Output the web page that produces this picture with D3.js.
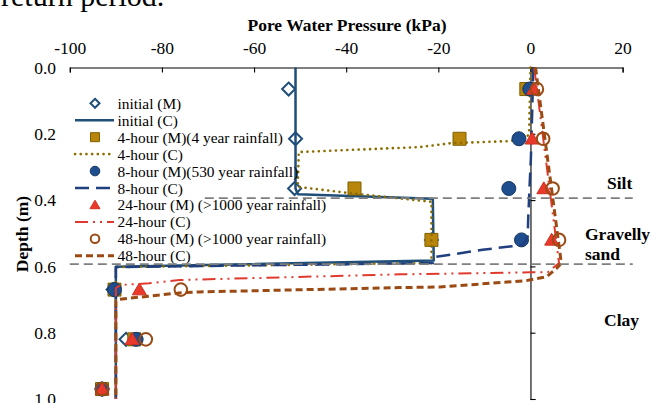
<!DOCTYPE html>
<html>
<head>
<meta charset="utf-8">
<script src="https://cdn.jsdelivr.net/npm/d3@7"></script>
<style>
  body { margin: 0; background: #fff; }
  svg { display: block; font-family: "Liberation Serif", "Times New Roman", serif; }
  svg text { font-family: "Liberation Serif", "Times New Roman", serif; }
</style>
</head>
<body>
<svg id="chart" width="652" height="403"></svg>
<script>
var svgWidth = 652;
var svgHeight = 403;

// measured depths (m) and pore water pressures (kPa)
var depthM   = [0.065, 0.215, 0.365, 0.52, 0.67, 0.82, 0.97];
var initialM = [-52.5, -51, -51.2, -21.5, -90.6, -87.8, -93];
var hour4M   = [-0.9, -15.4, -38.2, -21.5, -90.3, -86, -93];
var hour8M   = [-0.15, -2.5, -4.7, -1.95, -90.3, -85.6, -93];
var hour24M  = [0.7, 0.35, 2.9, 4.6, -84.9, -86.5, -93];
var hour48M  = [1.4, 2.75, 4.8, 6.2, -75.9, -83.5, -93];

// computed profiles [pressure, depth]
var initialC = [[-51, 0], [-51, 0.365], [-50.5, 0.382], [-21.2, 0.396], [-21, 0.582], [-90, 0.601], [-90, 1]];
var hour4C = [[0, 0], [-0.3, 0.2], [-0.9, 0.212], [-4.5, 0.222], [-17, 0.228], [-24, 0.24], [-50.3, 0.255],
  [-50.5, 0.36], [-39.3, 0.379], [-21.5, 0.405], [-21.5, 0.59], [-90, 0.602], [-90, 1]];
var hour8C = [[0.6, 0], [0.4, 0.12], [0.1, 0.27], [-0.2, 0.36], [-0.5, 0.46], [-0.6, 0.51], [-1.7, 0.535],
  [-4.5, 0.54], [-10.4, 0.55], [-20.8, 0.572], [-21.2, 0.59], [-90, 0.602], [-90, 1]];
var hour24C = [[0.8, 0], [6.2, 0.59], [3.8, 0.617], [-0.2, 0.618], [-28.4, 0.624], [-76.2, 0.641],
  [-82.8, 0.651], [-88.9, 0.656], [-90, 0.665], [-90, 1]];
var hour48C = [[1.1, 0], [6.7, 0.59], [5.65, 0.606], [3.5, 0.631], [-0.9, 0.643], [-19.7, 0.662],
  [-28.4, 0.664], [-71.8, 0.677], [-76.2, 0.68], [-89.7, 0.70], [-90, 0.705], [-90, 1]];

var xTicks = [-100, -80, -60, -40, -20, 0, 20];
var yTicks = [0, 0.2, 0.4, 0.6, 0.8, 1.0];
var layerDepths = [0.394, 0.593];
var layerNames = ["Silt", "Gravelly", "sand", "Clay"];
var legendLabels = [
  "initial (M)", "initial (C)",
  "4-hour (M)(4 year rainfall)", "4-hour (C)",
  "8-hour (M)(530 year rainfall)", "8-hour (C)",
  "24-hour (M) (>1000 year rainfall)", "24-hour (C)",
  "48-hour (M) (>1000 year rainfall)", "48-hour (C)"
];

var x = d3.scaleLinear().domain([-100, 20]).range([69.8, 622.6]);
var y = d3.scaleLinear().domain([0, 1]).range([67.5, 399]);

var svg = d3.select("#chart");

// marker shapes
function markerPath(type, s) {
  if (type == "diamond") return "M0," + (-s) + "L" + s + ",0L0," + s + "L" + (-s) + ",0Z";
  if (type == "square") return "M" + (-s) + "," + (-s) + "H" + s + "V" + s + "H" + (-s) + "Z";
  if (type == "triangle") return "M0," + (-s * 0.95) + "L" + s + "," + (s * 0.75) + "L" + (-s) + "," + (s * 0.75) + "Z";
  return d3.arc()({innerRadius: 0, outerRadius: s, startAngle: 0, endAngle: 2 * Math.PI});
}

var markerStyles = [
  {type: "diamond", size: 6.5, lsize: 4.5, fill: "#fff", stroke: "#1F4E79", width: 2},
  {type: "square", size: 6.5, lsize: 4.5, fill: "#B8860B", stroke: "#7F6000", width: 1},
  {type: "circle", size: 7, lsize: 4.8, fill: "#1F4E8F", stroke: "#16365F", width: 1},
  {type: "triangle", size: 7, lsize: 5, fill: "#E8392A", stroke: "#D0301F", width: 1},
  {type: "circle", size: 6.3, lsize: 4.3, fill: "none", stroke: "#9C4A14", width: 2}
];
var lineStyles = [
  {stroke: "#1F4E79", width: 2.5, dash: null, cap: "butt"},
  {stroke: "#8C6D00", width: 2.6, dash: "0.1,5.6", cap: "round"},
  {stroke: "#1F3F7F", width: 2.5, dash: "14,7", cap: "butt"},
  {stroke: "#E03A2E", width: 2, dash: "13,5,2,5,2,5", cap: "butt"},
  {stroke: "#9C4A14", width: 3, dash: "7,4", cap: "butt"}
];

var measured = [initialM, hour4M, hour8M, hour24M, hour48M];
var computed = [initialC, hour4C, hour8C, hour24C, hour48C];

// partial text from the page above the chart
svg.append("text")
  .attr("x", 1).attr("y", 6)
  .style("font-size", "30px")
  .text("return period.");

// axis titles
svg.append("text")
  .attr("x", 347).attr("y", 30.5)
  .attr("text-anchor", "middle")
  .style("font-size", "17.5px").style("font-weight", "bold")
  .text("Pore Water Pressure (kPa)");

svg.append("text")
  .attr("transform", "translate(28,234) rotate(-90)")
  .attr("text-anchor", "middle")
  .style("font-size", "17.5px").style("font-weight", "bold")
  .text("Depth (m)");

// top axis, ticks pointing down
var xAxis = svg.append("g")
  .attr("transform", "translate(0," + y(0) + ")")
  .call(d3.axisTop(x).tickValues(xTicks).tickSize(-5).tickPadding(14)
    .tickFormat(function(d) { return String(d); }));
xAxis.attr("font-family", null).attr("font-size", null);
xAxis.selectAll("text").style("font-size", "17.5px").attr("fill", "#000");

// vertical axis at zero, labels on the left
var yAxis = svg.append("g")
  .attr("transform", "translate(" + x(0) + ",0)")
  .call(d3.axisRight(y).tickValues(yTicks).tickSize(5).tickFormat(""));
var yLabels = svg.append("g")
  .attr("transform", "translate(59,0)")
  .call(d3.axisLeft(y).tickValues(yTicks).tickSize(0).tickPadding(3).tickFormat(d3.format(".1f")));
yLabels.attr("font-family", null).attr("font-size", null);
yLabels.select(".domain").remove();
yLabels.selectAll("text").style("font-size", "17.5px").attr("fill", "#000");
svg.selectAll(".domain, .tick line").attr("stroke", "#000").attr("stroke-width", 1.1);

// series in Excel order: markers then line
var line = d3.line().x(function(d) { return x(d[0]); }).y(function(d) { return y(d[1]); });

for (var i = 0; i < 5; i++) {
  var ms = markerStyles[i];
  svg.append("g").selectAll("path")
    .data(measured[i])
    .enter()
    .append("path")
    .attr("transform", function(d, j) { return "translate(" + x(d) + "," + y(depthM[j]) + ")"; })
    .attr("d", markerPath(ms.type, ms.size))
    .attr("fill", ms.fill)
    .attr("stroke", ms.stroke)
    .attr("stroke-width", ms.width);

  var ls = lineStyles[i];
  svg.append("path")
    .datum(computed[i])
    .attr("d", line)
    .attr("fill", "none")
    .attr("stroke", ls.stroke)
    .attr("stroke-width", ls.width)
    .attr("stroke-dasharray", ls.dash)
    .attr("stroke-linecap", ls.cap)
    .attr("stroke-linejoin", "round");
}

// legend
var legend = svg.append("g");
legendLabels.forEach(function(label, i) {
  var ly = 103.3 + i * 16.94;
  var k = Math.floor(i / 2);
  if (i % 2 == 0) {
    var ms = markerStyles[k];
    legend.append("path")
      .attr("transform", "translate(95," + ly + ")")
      .attr("d", markerPath(ms.type, ms.lsize))
      .attr("fill", ms.fill)
      .attr("stroke", ms.stroke)
      .attr("stroke-width", ms.width);
  } else {
    var ls = lineStyles[k];
    legend.append("line")
      .attr("x1", 75).attr("x2", 114)
      .attr("y1", ly).attr("y2", ly)
      .attr("stroke", ls.stroke)
      .attr("stroke-width", ls.width)
      .attr("stroke-dasharray", ls.dash)
      .attr("stroke-linecap", ls.cap);
  }
  legend.append("text")
    .attr("x", 117.5).attr("y", ly + 5.5)
    .style("font-size", "15.4px")
    .text(label);
});

// soil layer boundaries
svg.selectAll(".layer")
  .data(layerDepths)
  .enter()
  .append("line")
  .attr("class", "layer")
  .attr("x1", function(d, i) { return i == 0 ? x(-70.7) : x(-100); })
  .attr("x2", x(22.2))
  .attr("y1", function(d) { return y(d); })
  .attr("y2", function(d) { return y(d); })
  .attr("stroke", "#7F7F7F")
  .attr("stroke-width", 1.6)
  .attr("stroke-dasharray", "9,5");

var layerPos = [[607, 189], [585, 239.5], [585, 259.5], [604, 326]];
svg.selectAll(".layerName")
  .data(layerNames)
  .enter()
  .append("text")
  .attr("class", "layerName")
  .attr("x", function(d, i) { return layerPos[i][0]; })
  .attr("y", function(d, i) { return layerPos[i][1]; })
  .style("font-size", "17.5px").style("font-weight", "bold")
  .text(function(d) { return d; });
</script>
</body>
</html>
